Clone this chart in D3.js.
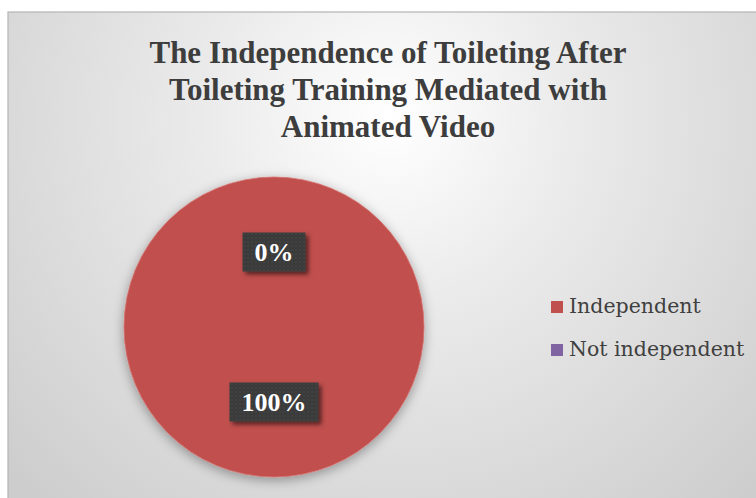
<!DOCTYPE html>
<html>
<head>
<meta charset="utf-8">
<script src="https://cdn.jsdelivr.net/npm/d3@7/dist/d3.min.js"></script>
<style>
  html, body { margin: 0; padding: 0; background: #ffffff; }
  svg { display: block; }
</style>
</head>
<body>
<svg id="chart" width="756" height="498"></svg>
<script>
const titleLines = ["The Independence of Toileting After", "Toileting Training Mediated with", "Animated Video"];
const categories = ["Independent", "Not independent"];
const values = [100, 0];
const labels = ["100%", "0%"];
const colors = ["#c0504d", "#8064a2"];

const svg = d3.select("#chart");
const defs = svg.append("defs");

// background gradient
const bg = defs.append("radialGradient").attr("id", "bgGrad")
  .attr("gradientUnits", "userSpaceOnUse")
  .attr("cx", 390).attr("cy", 120).attr("r", 520);
bg.append("stop").attr("offset", "0%").attr("stop-color", "#ffffff");
bg.append("stop").attr("offset", "35%").attr("stop-color", "#ebebeb");
bg.append("stop").attr("offset", "100%").attr("stop-color", "#cdcdcd");

const pieShadow = defs.append("filter").attr("id", "pieShadow")
  .attr("x", "-20%").attr("y", "-20%").attr("width", "140%").attr("height", "140%");
pieShadow.append("feDropShadow").attr("dx", 0).attr("dy", 3).attr("stdDeviation", 6)
  .attr("flood-color", "#000").attr("flood-opacity", 0.35);

const boxShadow = defs.append("filter").attr("id", "boxShadow")
  .attr("x", "-20%").attr("y", "-30%").attr("width", "150%").attr("height", "170%");
boxShadow.append("feDropShadow").attr("dx", 3).attr("dy", 3).attr("stdDeviation", 2)
  .attr("flood-color", "#000").attr("flood-opacity", 0.55);

const dots = defs.append("pattern").attr("id", "dots")
  .attr("width", 4).attr("height", 4).attr("patternUnits", "userSpaceOnUse");
dots.append("rect").attr("width", 4).attr("height", 4).attr("fill", "#3a3b3b");
dots.append("circle").attr("cx", 2).attr("cy", 2).attr("r", 0.8).attr("fill", "#4a4c4c");

// chart area
svg.append("rect").attr("x", 8).attr("y", 12).attr("width", 760).attr("height", 500)
  .attr("fill", "url(#bgGrad)").attr("stroke", "#b4b4b4").attr("stroke-width", 1.2);

// title
svg.append("text")
  .attr("x", 388).attr("y", 63)
  .attr("text-anchor", "middle")
  .attr("font-family", "'Liberation Serif', 'Times New Roman', serif")
  .attr("font-weight", "bold").attr("font-size", 31).attr("fill", "#3d3d3d")
  .selectAll("tspan").data(titleLines).join("tspan")
  .attr("x", 388).attr("dy", (d, i) => i === 0 ? 0 : 37)
  .text(d => d);

// pie
const cx = 274, cy = 327, R = 150;
const pie = d3.pie().sort(null).value(d => d.value);
const data = categories.map((c, i) => ({ cat: c, value: values[i], label: labels[i], color: colors[i] }));
const arcs = pie(data);
const arc = d3.arc().innerRadius(0).outerRadius(R);
const labelArc = d3.arc().innerRadius(R / 2).outerRadius(R / 2);

const g = svg.append("g").attr("transform", `translate(${cx},${cy})`);
g.append("g").attr("filter", "url(#pieShadow)")
  .selectAll("path").data(arcs).join("path")
  .attr("d", arc)
  .attr("fill", d => d.data.color)
  .attr("stroke", d => d.data.value > 0 ? "#d46f6c" : "none")
  .attr("stroke-width", 0.8);

// data labels
const lab = g.selectAll("g.lab").data(arcs).join("g").attr("class", "lab")
  .attr("transform", d => {
    const [x, y] = labelArc.centroid(d);
    return `translate(${x},${y})`;
  });
lab.each(function(d) {
  const sel = d3.select(this);
  const t = sel.append("text")
    .attr("text-anchor", "middle").attr("y", 9)
    .attr("font-family", "'Liberation Serif', 'Times New Roman', serif")
    .attr("font-weight", "bold").attr("font-size", 26).attr("fill", "#ffffff")
    .text(d.data.label);
  const w = t.node().getComputedTextLength();
  sel.insert("rect", "text")
    .attr("x", -w / 2 - 12).attr("y", -19.5)
    .attr("width", w + 24).attr("height", 39)
    .attr("fill", "url(#dots)")
    .attr("filter", "url(#boxShadow)");
});

// legend
const legend = svg.append("g").attr("transform", "translate(551,313)");
const items = legend.selectAll("g").data(categories).join("g")
  .attr("transform", (d, i) => `translate(0,${i * 43})`);
items.append("rect").attr("x", 0).attr("y", -12).attr("width", 12).attr("height", 12)
  .attr("fill", (d, i) => colors[i]);
items.append("text").attr("x", 18).attr("y", 0)
  .attr("font-family", "'DejaVu Serif', serif")
  .attr("font-size", 20.5).attr("fill", "#404040")
  .text(d => d);
</script>
</body>
</html>
